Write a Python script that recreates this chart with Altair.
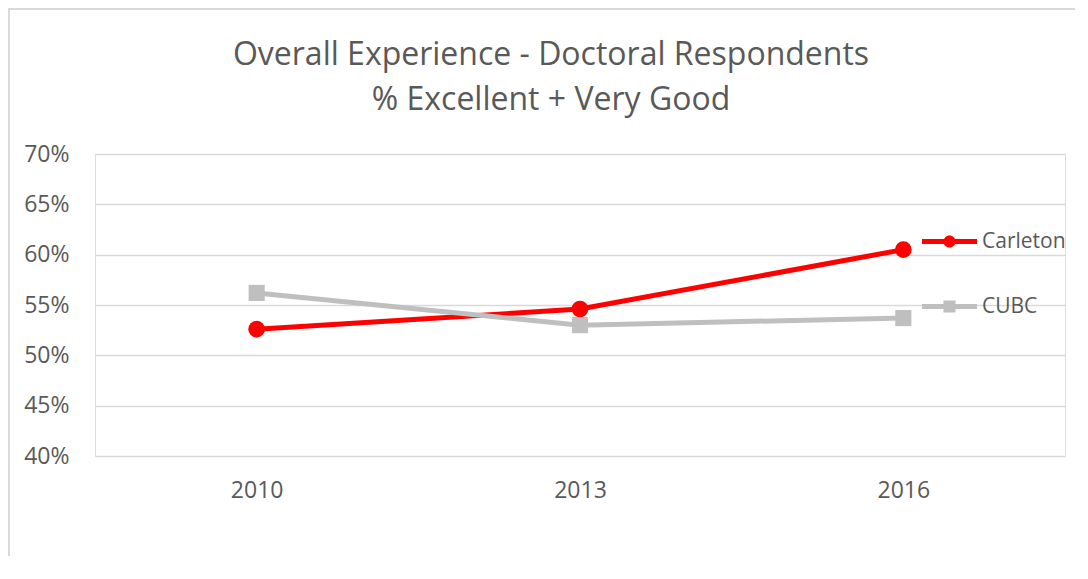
import altair as alt
import pandas as pd

years = ["2010", "2013", "2016"]
carleton = [0.526, 0.546, 0.605]
cubc = [0.562, 0.530, 0.537]
series_names = ["Carleton", "CUBC"]
series_colors = ["#FF0000", "#BFBFBF"]
y_ticks = [0.40, 0.45, 0.50, 0.55, 0.60, 0.65, 0.70]

df = pd.DataFrame({
    "year": years * 2,
    "value": carleton + cubc,
    "series": [series_names[0]] * 3 + [series_names[1]] * 3,
})

TXT = "#595959"
FONT = "Open Sans"

x_enc = alt.X("year:O", scale=alt.Scale(type="point", padding=0.5),
              axis=alt.Axis(title=None, domain=False, ticks=False, grid=False,
                            labelAngle=0, labelFontSize=23, labelColor=TXT,
                            labelFont=FONT, labelPadding=23))
y_enc = alt.Y("value:Q", scale=alt.Scale(domain=[0.40, 0.70], nice=False, zero=False),
              axis=alt.Axis(title=None, format=".0%", values=y_ticks, domain=False,
                            ticks=False, grid=True, gridColor="#D9D9D9", gridWidth=1.5,
                            labelFontSize=23, labelColor=TXT, labelFont=FONT,
                            labelPadding=26))

base = alt.Chart(df).encode(x=x_enc, y=y_enc)

frame = alt.Chart(df).mark_rect(fill=None, stroke="#D9D9D9", strokeWidth=1.5).encode(
    x=alt.value(-86), x2=alt.value(1010), y=alt.value(-145), y2=alt.value(440)
)

c_line = base.transform_filter(alt.datum.series == "Carleton").mark_line(
    color=series_colors[0], strokeWidth=5)
c_pts = base.transform_filter(alt.datum.series == "Carleton").mark_point(
    shape="circle", filled=True, color=series_colors[0], size=280, opacity=1)
u_line = base.transform_filter(alt.datum.series == "CUBC").mark_line(
    color=series_colors[1], strokeWidth=5)
u_pts = base.transform_filter(alt.datum.series == "CUBC").mark_point(
    shape="square", filled=True, color=series_colors[1], size=260, opacity=1)

circ_path = ("M-1,-0.09H1V0.09H-1Z "
             "M0.22,0A0.22,0.22 0 1 1 -0.22,0A0.22,0.22 0 1 1 0.22,0Z")
sq_path = "M-1,-0.09H1V0.09H-1Z M-0.22,-0.22H0.22V0.22H-0.22Z"

legend = alt.Legend(title=None, orient="none", legendX=827, legendY=60,
                    symbolSize=3025, symbolOpacity=1, symbolStrokeWidth=0,
                    labelFontSize=21, labelColor=TXT, labelFont=FONT,
                    labelOffset=5, rowPadding=27, padding=0)

leg_layer = base.mark_point(filled=True, opacity=0).encode(
    color=alt.Color("series:N", scale=alt.Scale(domain=series_names, range=series_colors),
                    legend=legend),
    shape=alt.Shape("series:N", scale=alt.Scale(domain=series_names, range=[circ_path, sq_path]),
                    legend=legend),
)

chart = alt.layer(frame, c_line, u_line, c_pts, u_pts, leg_layer).properties(
    width=970, height=302,
    title=alt.TitleParams(
        text=["Overall Experience - Doctoral Respondents", "% Excellent + Very Good"],
        fontSize=32, font=FONT, color=TXT, fontWeight="normal",
        anchor="middle", dx=-29, offset=-109, lineHeight=45,
    ),
    autosize=alt.AutoSizeParams(type="none"),
    padding={"left": 87, "top": 146, "right": 10, "bottom": 100},
).configure_view(stroke=None).configure(background="white")

chart.save("out.html", embed_options={"renderer": "svg", "actions": False})
